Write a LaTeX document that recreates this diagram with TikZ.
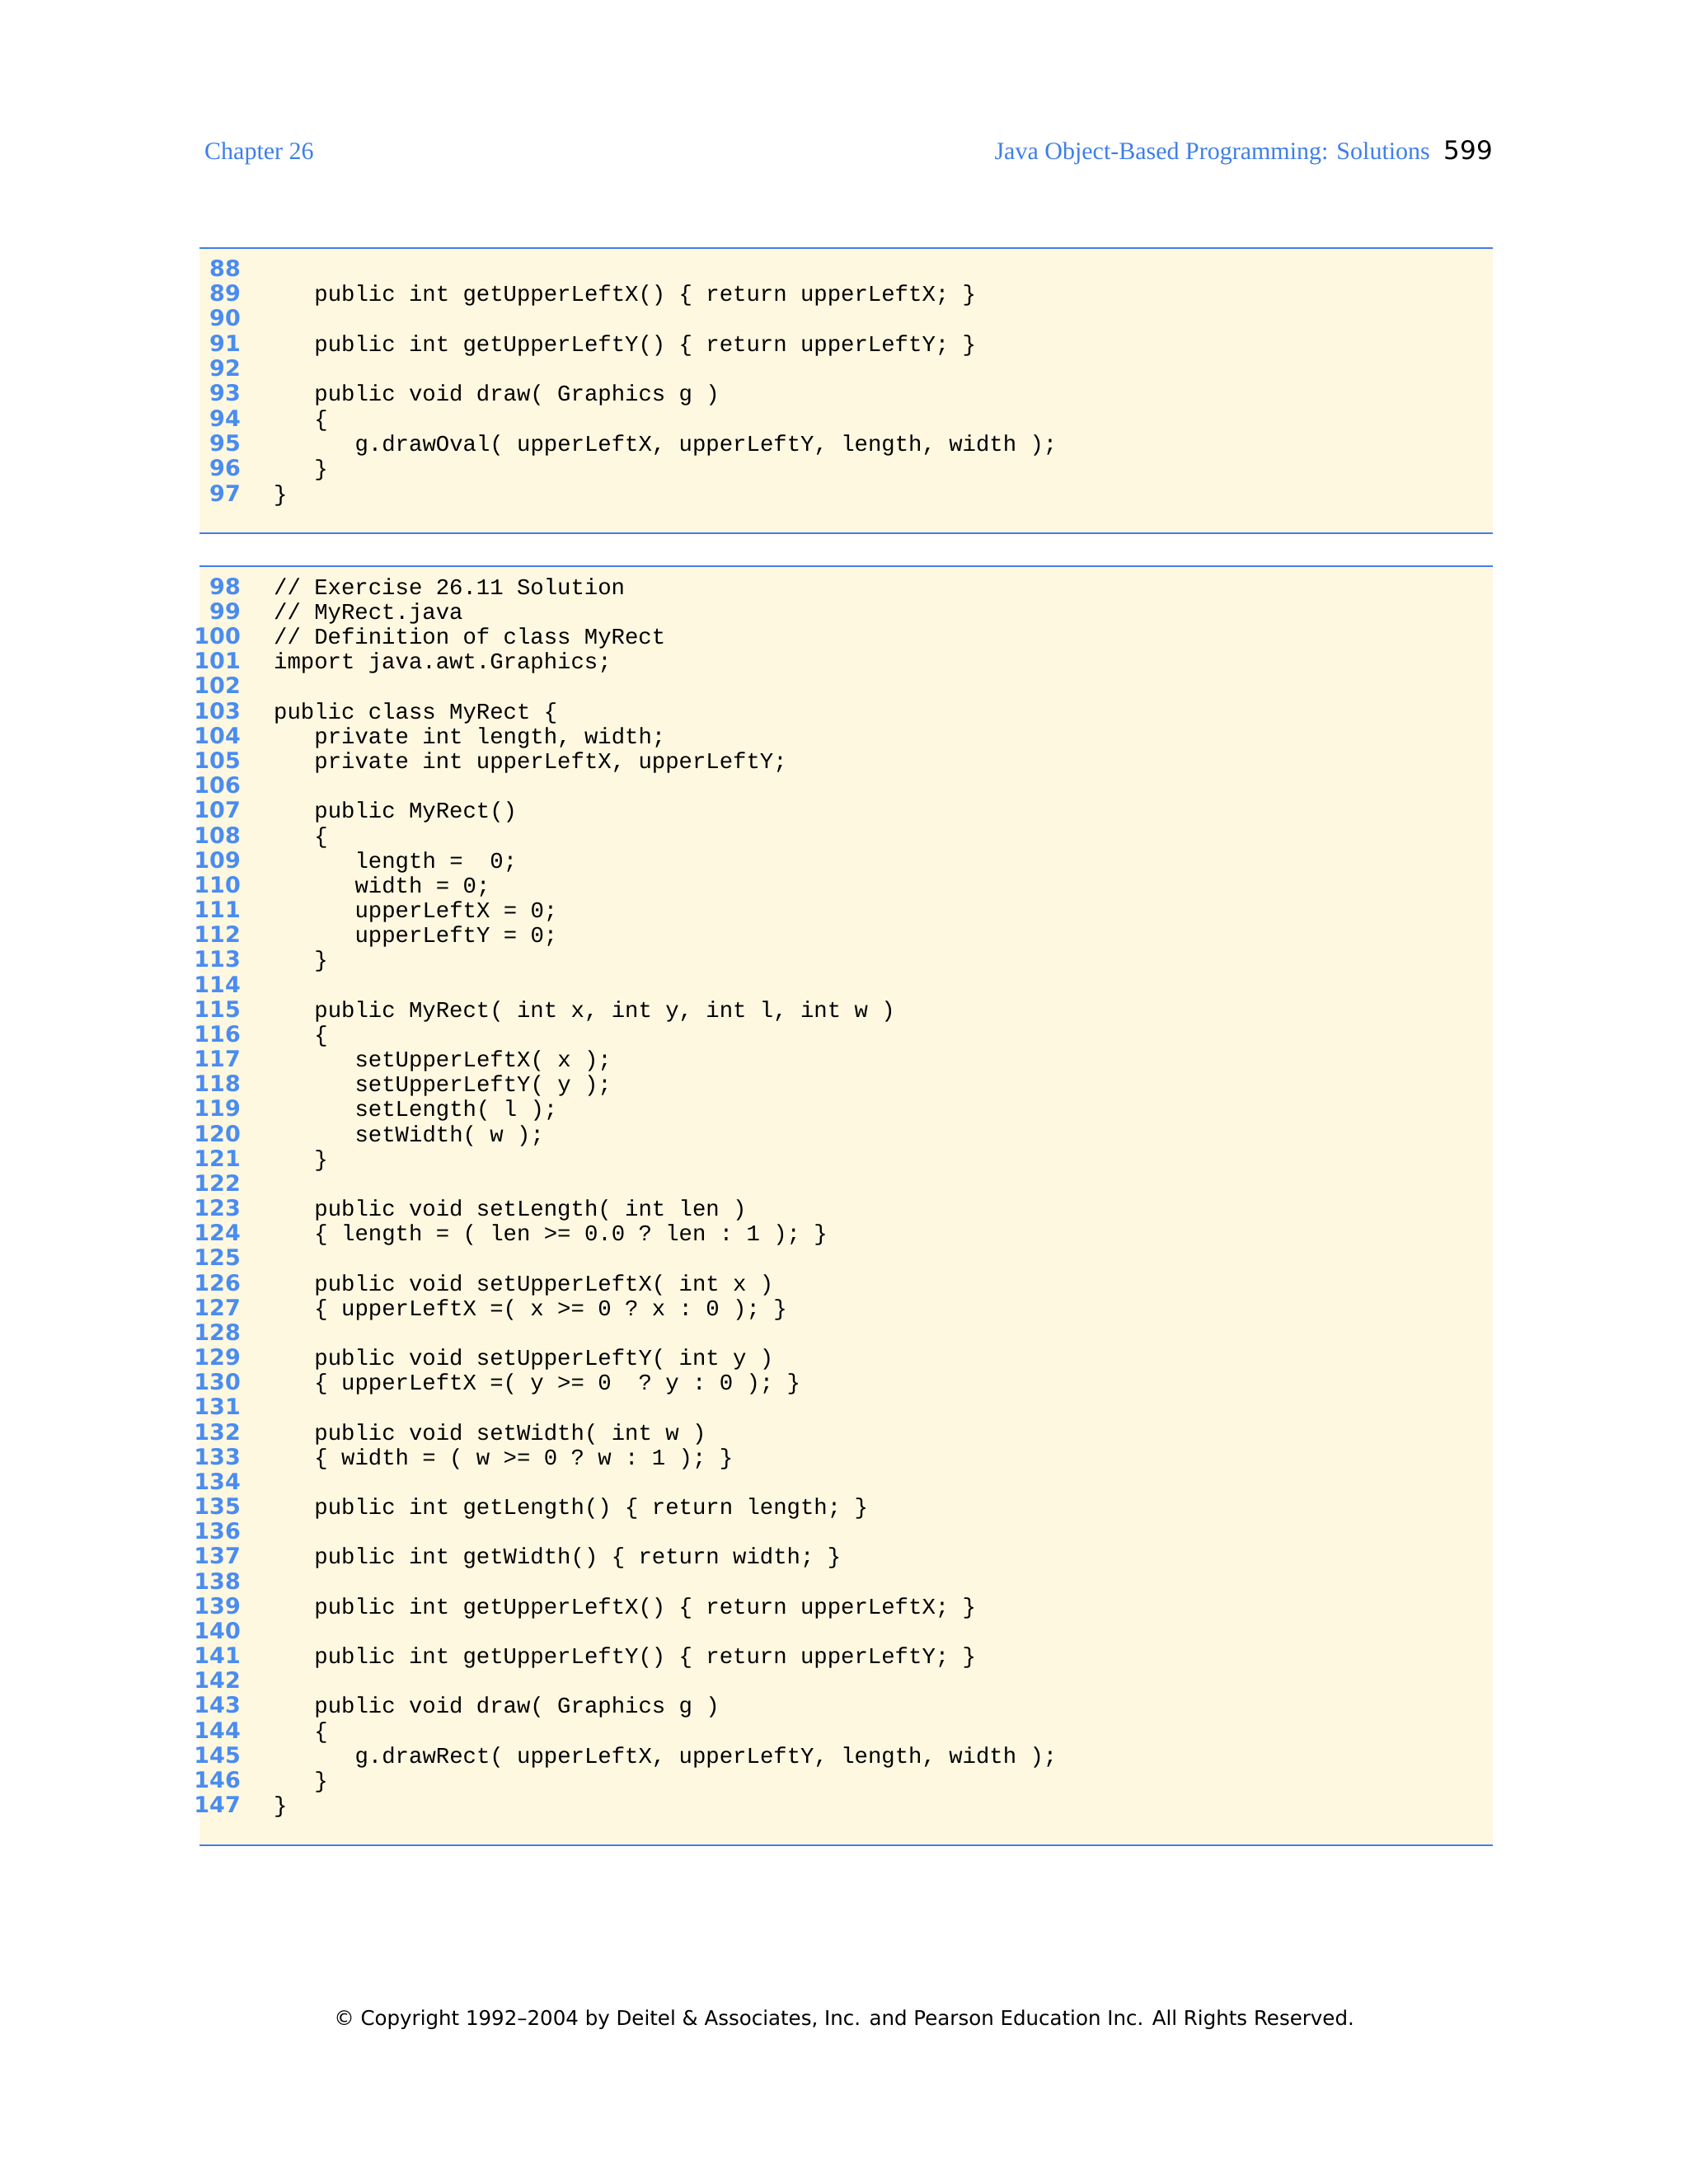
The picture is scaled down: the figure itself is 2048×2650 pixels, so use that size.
\documentclass[tikz,border=0pt]{standalone}
\usepackage{fontspec}
\setmainfont{Liberation Serif}
\setmonofont{Liberation Mono}
\setsansfont{DejaVu Sans}
\definecolor{bx}{HTML}{FFF8E1}
\definecolor{bl}{HTML}{3F7FE8}
\definecolor{nm}{HTML}{4A8CF0}
\tikzset{
 num/.style={anchor=mid east,inner sep=0pt,font=\fontsize{27}{30}\selectfont\sffamily\bfseries,text=nm},
 code/.style={anchor=mid west,inner sep=0pt,font=\fontsize{27.3}{30}\selectfont\ttfamily},
 rule/.style={draw=bl,line width=2.6pt}
}
\newcommand\cl[4]{\node[num] (n#1) at (292,#2) {#1};\node[code] (c#1) at (332+16.4*#3,#2) {#4};}
\begin{document}
\begin{tikzpicture}[x=1pt,y=-1pt]
\useasboundingbox (0,0) rectangle (2048,2650);
\fill[white] (0,0) rectangle (2048,2650);
\node[anchor=mid west,font=\fontsize{30}{32}\selectfont,text=bl,inner sep=0pt] (ch) at (248,191) {Chapter 26};
\node[anchor=mid east,font=\fontsize{31}{32}\selectfont\sffamily,inner sep=0pt] (pg) at (1811,191) {599};
\node[anchor=mid east,font=\fontsize{30}{32}\selectfont,text=bl,inner sep=0pt] (ti) at (1735,191) {Java Object-Based Programming: Solutions};
% box 1
\fill[bx] (242,301) rectangle (1811,647);
\draw[rule] (242,301) -- (1811,301);
\draw[rule] (242,647) -- (1811,647);
\def\ya{333}\def\da{30.3}
\cl{88}{\ya+0*\da}{0}{}
\cl{89}{\ya+1*\da}{3}{public int getUpperLeftX() \{ return upperLeftX; \}}
\cl{90}{\ya+2*\da}{0}{}
\cl{91}{\ya+3*\da}{3}{public int getUpperLeftY() \{ return upperLeftY; \}}
\cl{92}{\ya+4*\da}{0}{}
\cl{93}{\ya+5*\da}{3}{public void draw( Graphics g )}
\cl{94}{\ya+6*\da}{3}{\{}
\cl{95}{\ya+7*\da}{6}{g.drawOval( upperLeftX, upperLeftY, length, width );}
\cl{96}{\ya+8*\da}{3}{\}}
\cl{97}{\ya+9*\da}{0}{\}}
% box 2
\fill[bx] (242,687) rectangle (1811,2239);
\draw[rule] (242,687) -- (1811,687);
\draw[rule] (242,2239) -- (1811,2239);
\def\yb{719}\def\db{30.17}
\cl{98}{\yb+0*\db}{0}{// Exercise 26.11 Solution}
\cl{99}{\yb+1*\db}{0}{// MyRect.java}
\cl{100}{\yb+2*\db}{0}{// Definition of class MyRect}
\cl{101}{\yb+3*\db}{0}{import java.awt.Graphics;}
\cl{102}{\yb+4*\db}{0}{}
\cl{103}{\yb+5*\db}{0}{public class MyRect \{}
\cl{104}{\yb+6*\db}{3}{private int length, width;}
\cl{105}{\yb+7*\db}{3}{private int upperLeftX, upperLeftY;}
\cl{106}{\yb+8*\db}{0}{}
\cl{107}{\yb+9*\db}{3}{public MyRect()}
\cl{108}{\yb+10*\db}{3}{\{}
\cl{109}{\yb+11*\db}{6}{length =\ \ 0;}
\cl{110}{\yb+12*\db}{6}{width = 0;}
\cl{111}{\yb+13*\db}{6}{upperLeftX = 0;}
\cl{112}{\yb+14*\db}{6}{upperLeftY = 0;}
\cl{113}{\yb+15*\db}{3}{\}}
\cl{114}{\yb+16*\db}{0}{}
\cl{115}{\yb+17*\db}{3}{public MyRect( int x, int y, int l, int w )}
\cl{116}{\yb+18*\db}{3}{\{}
\cl{117}{\yb+19*\db}{6}{setUpperLeftX( x );}
\cl{118}{\yb+20*\db}{6}{setUpperLeftY( y );}
\cl{119}{\yb+21*\db}{6}{setLength( l );}
\cl{120}{\yb+22*\db}{6}{setWidth( w );}
\cl{121}{\yb+23*\db}{3}{\}}
\cl{122}{\yb+24*\db}{0}{}
\cl{123}{\yb+25*\db}{3}{public void setLength( int len )}
\cl{124}{\yb+26*\db}{3}{\{ length = ( len >= 0.0 ? len : 1 ); \}}
\cl{125}{\yb+27*\db}{0}{}
\cl{126}{\yb+28*\db}{3}{public void setUpperLeftX( int x )}
\cl{127}{\yb+29*\db}{3}{\{ upperLeftX =( x >= 0 ? x : 0 ); \}}
\cl{128}{\yb+30*\db}{0}{}
\cl{129}{\yb+31*\db}{3}{public void setUpperLeftY( int y )}
\cl{130}{\yb+32*\db}{3}{\{ upperLeftX =( y >= 0\ \ ? y : 0 ); \}}
\cl{131}{\yb+33*\db}{0}{}
\cl{132}{\yb+34*\db}{3}{public void setWidth( int w )}
\cl{133}{\yb+35*\db}{3}{\{ width = ( w >= 0 ? w : 1 ); \}}
\cl{134}{\yb+36*\db}{0}{}
\cl{135}{\yb+37*\db}{3}{public int getLength() \{ return length; \}}
\cl{136}{\yb+38*\db}{0}{}
\cl{137}{\yb+39*\db}{3}{public int getWidth() \{ return width; \}}
\cl{138}{\yb+40*\db}{0}{}
\cl{139}{\yb+41*\db}{3}{public int getUpperLeftX() \{ return upperLeftX; \}}
\cl{140}{\yb+42*\db}{0}{}
\cl{141}{\yb+43*\db}{3}{public int getUpperLeftY() \{ return upperLeftY; \}}
\cl{142}{\yb+44*\db}{0}{}
\cl{143}{\yb+45*\db}{3}{public void draw( Graphics g )}
\cl{144}{\yb+46*\db}{3}{\{}
\cl{145}{\yb+47*\db}{6}{g.drawRect( upperLeftX, upperLeftY, length, width );}
\cl{146}{\yb+48*\db}{3}{\}}
\cl{147}{\yb+49*\db}{0}{\}}
\node[font=\fontsize{24.5}{28}\selectfont\sffamily,inner sep=0pt] (ft) at (1024,2451) {© Copyright 1992–2004 by Deitel \& Associates, Inc. and Pearson Education Inc. All Rights Reserved.};
\end{tikzpicture}
\end{document}
